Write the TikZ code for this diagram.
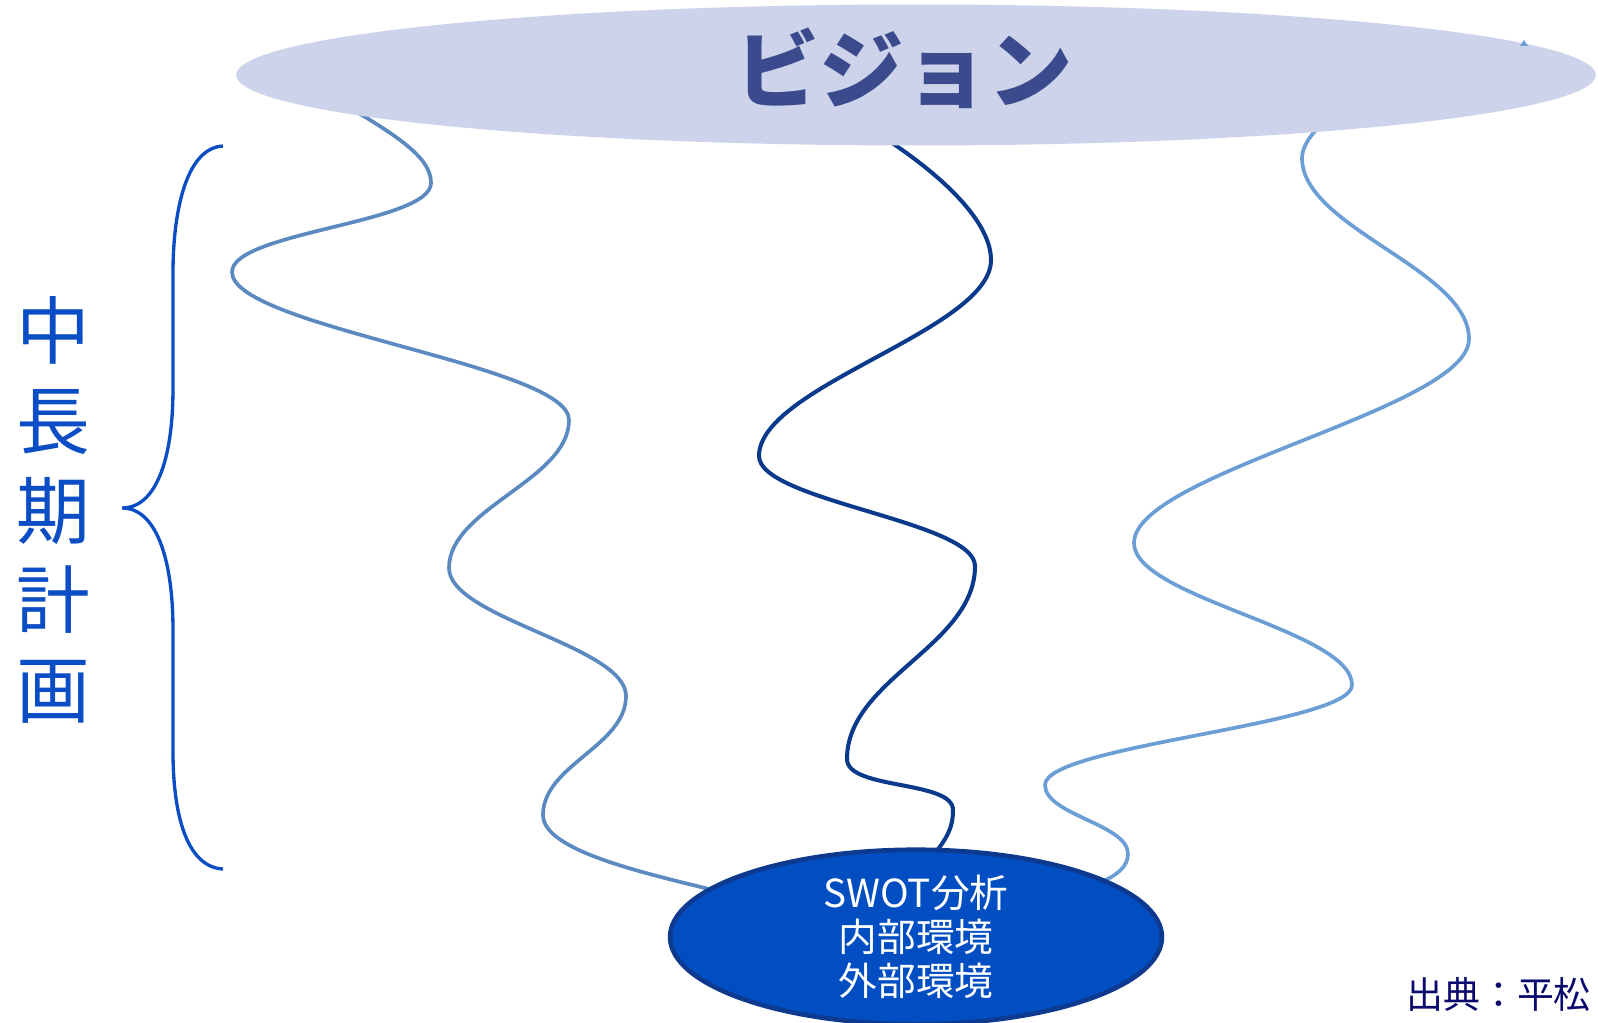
\documentclass[tikz,border=0pt]{standalone}
\usepackage{fontspec}
\newfontfamily\jp{Noto Sans CJK JP}
\usetikzlibrary{shapes.geometric}
\definecolor{visfill}{HTML}{CCD3EA}
\definecolor{vistext}{HTML}{3A4A8C}
\definecolor{swotfill}{HTML}{004EC2}
\definecolor{swotline}{HTML}{0D3A8E}
\definecolor{wavea}{HTML}{5A8AC0}
\definecolor{waveb}{HTML}{0B3A8C}
\definecolor{wavec}{HTML}{6A9ED4}
\definecolor{bracec}{HTML}{0B4DC4}
\definecolor{srcc}{HTML}{0A0A6E}
\tikzset{
  wave/.style={line width=2.1pt},
  bigell/.style={ellipse, inner sep=0pt},
}
\begin{document}
\begin{tikzpicture}[x=0.02cm,y=-0.02cm]
\useasboundingbox (0,0) rectangle (1598,1023);
% coordinates of the wave ends
\coordinate (a0) at (345,105);
\coordinate (a9) at (713,890);
\coordinate (b0) at (880,135);
\coordinate (b9) at (933,856);
\coordinate (c0) at (1330,118);
\coordinate (c9) at (1040,900);
% waves
\draw[wave, wavea] (a0) .. controls (405,140) and (431,160) .. (431,183)
  .. controls (431,223) and (232,232) .. (232,272)
  .. controls (232,327) and (569,365) .. (569,420)
  .. controls (569,480) and (449,508) .. (449,568)
  .. controls (449,618) and (626,646) .. (626,696)
  .. controls (626,746) and (543,765) .. (543,815)
  .. controls (543,850) and (640,872) .. (a9);
\draw[wave, waveb, line width=2.3pt] (b0) .. controls (950,180) and (991,225) .. (991,260)
  .. controls (991,330) and (759,386) .. (759,456)
  .. controls (759,501) and (975,521) .. (975,566)
  .. controls (975,646) and (847,679) .. (847,759)
  .. controls (847,790) and (953,780) .. (953,810)
  .. controls (953,830) and (945,840) .. (b9);
\draw[wave, wavec] (c0) .. controls (1315,128) and (1302,145) .. (1302,158)
  .. controls (1302,228) and (1469,269) .. (1469,339)
  .. controls (1469,409) and (1134,473) .. (1134,543)
  .. controls (1134,598) and (1352,630) .. (1352,685)
  .. controls (1352,725) and (1045,745) .. (1045,785)
  .. controls (1045,815) and (1128,824) .. (1128,854)
  .. controls (1128,880) and (1080,890) .. (c9);
% ellipses
\node[bigell, fill=visfill, minimum width=27.2cm, minimum height=2.82cm] (vision) at (916,75) {};
\node[font=\jp\bfseries\fontsize{48}{56}\selectfont, text=vistext] (visiontext) at (904,68) {ビジョン};
\fill[wavec] (1520,46) -- (1524,40) -- (1528,46) -- cycle;
\node[bigell, fill=swotfill, draw=swotline, line width=2.6pt, minimum width=9.84cm, minimum height=3.34cm,
  text=white, align=center, font=\jp\fontsize{22}{25}\selectfont] (swot) at (916,937) {SWOT分析\\内部環境\\外部環境};
% brace
\coordinate (brtop) at (223,146);
\coordinate (brtip) at (122,508);
\coordinate (brbot) at (223,869);
\draw[bracec, line width=1.9pt] (brtop) .. controls (185,148) and (173,215) .. (173,272) -- (173,388)
  .. controls (173,462) and (155,508) .. (brtip)
  .. controls (155,508) and (173,556) .. (173,630) -- (173,752)
  .. controls (173,810) and (185,867) .. (brbot);
\node[text=bracec, align=center, font=\jp\fontsize{42}{51.2}\selectfont] (plan) at (53,510) {中\\長\\期\\計\\画};
\node[anchor=west, text=srcc, font=\jp\fontsize{21}{25}\selectfont, inner sep=0pt] (src) at (1406,994) {出典：平松};
\end{tikzpicture}
\end{document}
